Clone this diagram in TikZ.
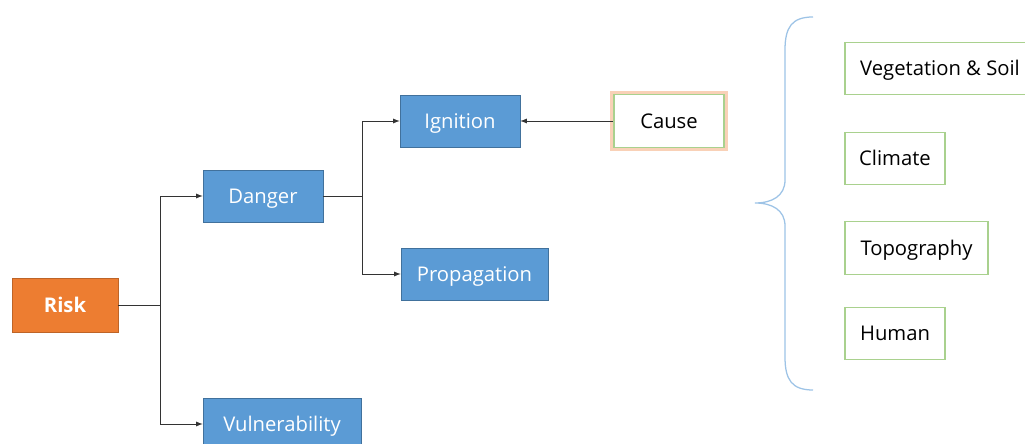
\documentclass[tikz,border=0pt]{standalone}
\usepackage{fontspec}
\setmainfont{Open Sans}
\usepackage{tikz}
\usetikzlibrary{shapes, arrows, positioning, calc}
\definecolor{boxblue}{HTML}{5B9BD5}
\definecolor{boxblueline}{HTML}{41719C}
\definecolor{riskorange}{HTML}{ED7D31}
\definecolor{leafgreen}{HTML}{A9D18E}
\definecolor{bracelight}{HTML}{9DC3E6}
\tikzstyle{block} = [rectangle, draw=boxblueline, fill=boxblue, text=white, minimum height=1.3cm, inner sep=0pt, text height=1.9ex, text depth=0pt]
\tikzstyle{leaf} = [rectangle, draw=leafgreen, line width=0.8pt, fill=white, text=black, minimum height=1.32cm, inner sep=0pt, text height=1.9ex, text depth=0pt]
\tikzstyle{link} = [draw=black!80, line width=0.6pt]

\begin{document}
\begin{tikzpicture}[x=0.025cm, y=-0.025cm, font=\fontsize{14.4}{16}\selectfont, >=latex]
        \useasboundingbox (0,0) rectangle (1025,444);

        % Main tree
        \node[block, fill=riskorange, draw=riskorange!80!black, minimum width=2.65cm, minimum height=1.35cm, font=\fontsize{14.4}{16}\selectfont\bfseries] (risk) at (65,305) {Risk};
        \node[block, minimum width=3cm] (danger) at (263,196) {Danger};
        \node[block, minimum width=3.95cm] (vuln) at (282,424) {Vulnerability};
        \node[block, minimum width=3cm] (ignition) at (460,121) {Ignition};
        \node[block, minimum width=3.675cm] (propag) at (474.5,274) {Propagation};
        \node[leaf, minimum width=2.75cm, preaction={draw=riskorange!35, line width=5pt}] (cause) at (669,121) {Cause};

        \coordinate (fork1) at (160,305);
        \coordinate (fork2) at (362,196);
        \draw[link] (risk) -- (fork1);
        \draw[link, ->] (fork1) |- (danger);
        \draw[link, ->] (fork1) |- (vuln);
        \draw[link] (danger) -- (fork2);
        \draw[link, ->] (fork2) |- (ignition);
        \draw[link, ->] (fork2) |- (propag);
        \draw[link, ->] (cause) -- (ignition);

        % Factors with brace
        \draw[bracelight, line width=0.9pt] (813,17) .. controls (792,17) and (785,27) .. (785,50)
            -- (785,180) .. controls (785,196) and (772,203) .. (755,203)
            .. controls (772,203) and (785,210) .. (785,226)
            -- (785,357) .. controls (785,380) and (792,390) .. (813,390);
        \node[leaf, minimum width=4.75cm] (veg) at (940,68.5) {Vegetation \& Soil};
        \node[leaf, minimum width=2.5cm] (climate) at (895,158.5) {Climate};
        \node[leaf, minimum width=3.575cm] (topo) at (916.5,248) {Topography};
        \node[leaf, minimum width=2.5cm] (human) at (895,333.5) {Human};
    \end{tikzpicture}
\end{document}
